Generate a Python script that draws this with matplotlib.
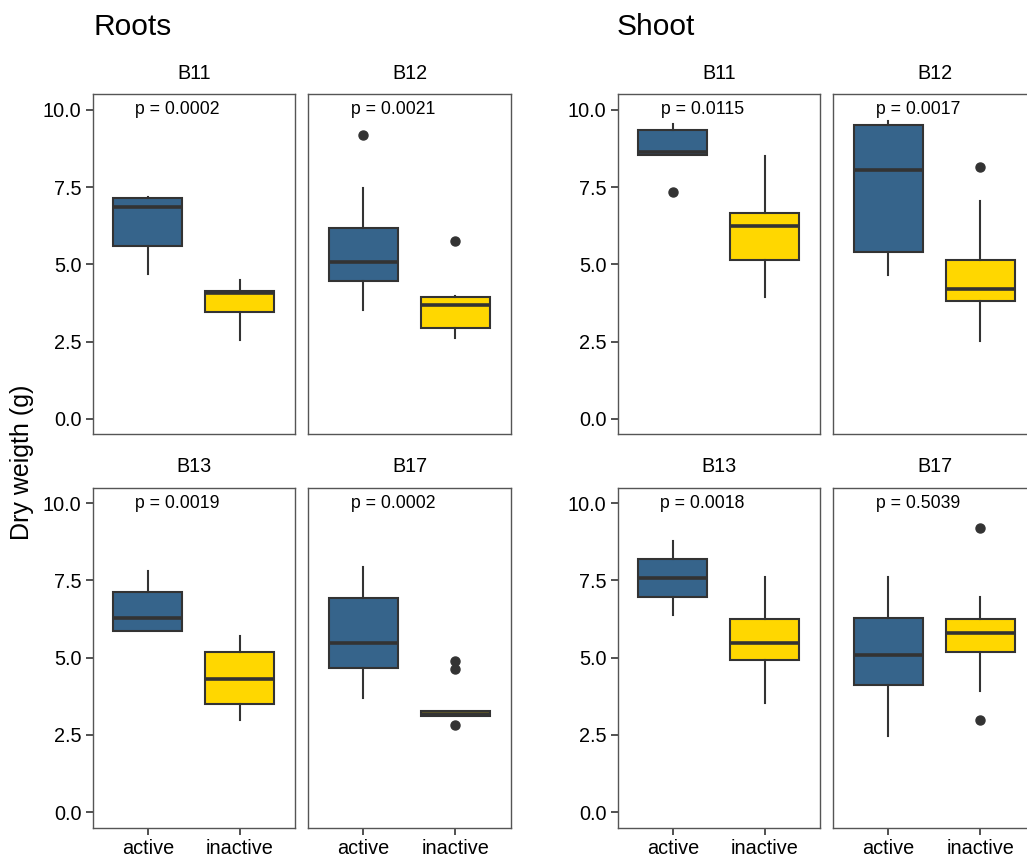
import matplotlib
matplotlib.use("Agg")
import matplotlib.pyplot as plt

plt.rcParams['font.family'] = ['Liberation Sans', 'DejaVu Sans']

strains = ['B11', 'B12', 'B13', 'B17']
groups = ['active', 'inactive']

# five-number summaries per strain: [whislo, q1, med, q3, whishi]
roots_active = [[4.69, 5.59, 6.86, 7.14, 7.18],
                [3.53, 4.47, 5.09, 6.19, 7.48],
                [5.88, 5.88, 6.30, 7.12, 7.82],
                [3.70, 4.66, 5.47, 6.92, 7.94]]
roots_active_out = [[], [9.18], [], []]
roots_inactive = [[2.54, 3.45, 4.06, 4.13, 4.48],
                  [2.60, 2.94, 3.67, 3.94, 3.98],
                  [3.00, 3.51, 4.31, 5.18, 5.71],
                  [3.11, 3.11, 3.19, 3.28, 3.28]]
roots_inactive_out = [[], [5.76], [], [4.90, 4.62, 2.82]]

shoot_active = [[8.53, 8.53, 8.63, 9.33, 9.55],
                [4.67, 5.40, 8.06, 9.52, 9.63],
                [6.37, 6.96, 7.58, 8.19, 8.78],
                [2.48, 4.11, 5.10, 6.30, 7.62]]
shoot_active_out = [[7.35], [], [], []]
shoot_inactive = [[3.94, 5.13, 6.24, 6.65, 8.49],
                  [2.52, 3.80, 4.19, 5.14, 7.05],
                  [3.55, 4.91, 5.47, 6.24, 7.62],
                  [3.91, 5.18, 5.80, 6.24, 6.98]]
shoot_inactive_out = [[], [8.14], [], [9.19, 2.98]]

roots_p = ['0.0002', '0.0021', '0.0019', '0.0002']
shoot_p = ['0.0115', '0.0017', '0.0018', '0.5039']

colors = ['#36648B', '#FFD700']
edge = '#333333'

W, H = 1027, 856
fig = plt.figure(figsize=(W / 100, H / 100), dpi=100)

col_left = {'Roots': [92.7, 308.3], 'Shoot': [617.7, 833.3]}
panel_w = 202.3
row_top = [94.3, 487.7]
panel_h = 340.0

tissues = [
    ('Roots', roots_active, roots_active_out, roots_inactive, roots_inactive_out, roots_p),
    ('Shoot', shoot_active, shoot_active_out, shoot_inactive, shoot_inactive_out, shoot_p),
]


def make_stats(s, fl):
    return dict(whislo=s[0], q1=s[1], med=s[2], q3=s[3], whishi=s[4], fliers=fl)


for name, act, act_out, ina, ina_out, pvals in tissues:
    for i, strain in enumerate(strains):
        r, c = divmod(i, 2)
        x0 = col_left[name][c]
        y0 = row_top[r]
        ax = fig.add_axes([x0 / W, 1 - (y0 + panel_h) / H, panel_w / W, panel_h / H])
        stats = [make_stats(act[i], act_out[i]), make_stats(ina[i], ina_out[i])]
        bp = ax.bxp(stats, positions=[1, 2], widths=0.75, showcaps=False,
                    patch_artist=True,
                    boxprops=dict(edgecolor=edge, linewidth=1.5),
                    whiskerprops=dict(color=edge, linewidth=1.5),
                    medianprops=dict(color=edge, linewidth=2.6, solid_capstyle='butt'),
                    flierprops=dict(marker='o', markerfacecolor=edge, markeredgecolor=edge,
                                    markersize=6.5, linestyle='none'))
        for patch, col in zip(bp['boxes'], colors):
            patch.set_facecolor(col)
        ax.set_xlim(0.4, 2.6)
        ax.set_ylim(-0.5, 10.5)
        ax.set_yticks([0, 2.5, 5, 7.5, 10])
        ax.set_yticklabels(['0.0', '2.5', '5.0', '7.5', '10.0'])
        ax.set_xticks([1, 2])
        ax.set_xticklabels(groups)
        for sp in ax.spines.values():
            sp.set_color('#555555')
            sp.set_linewidth(1.0)
        ax.tick_params(colors='#333333', labelcolor='black', labelsize=14.3,
                       length=5, width=1.2, pad=3)
        if c == 1:
            ax.tick_params(axis='y', left=False, labelleft=False)
        if r == 0:
            ax.tick_params(axis='x', bottom=False, labelbottom=False)
        ax.set_title(strain, fontsize=14.2, pad=11)
        ax.text(1.32, 10.0, 'p = ' + pvals[i], ha='center', va='center', fontsize=12.7)

fig.text(93 / W, 1 - 35 / H, 'Roots', fontsize=21.5, ha='left', va='baseline')
fig.text(617 / W, 1 - 35 / H, 'Shoot', fontsize=21.5, ha='left', va='baseline')
fig.text(22 / W, 1 - 462 / H, 'Dry weigth (g)', fontsize=18, rotation=90,
         ha='center', va='center')

fig.savefig('out.png', dpi=100)
